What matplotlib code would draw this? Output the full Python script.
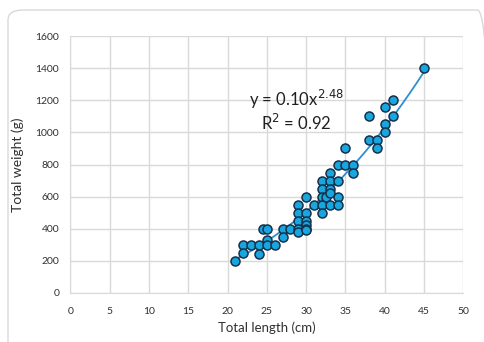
import numpy as np
import matplotlib
matplotlib.use("Agg")
import matplotlib.pyplot as plt
from matplotlib.patches import FancyBboxPatch

# Fish length (cm) and weight (g) measurements
length_cm = [21, 22, 22, 23, 24, 24, 24.5, 25, 25, 25, 26, 27, 27, 28,
             29, 29, 29, 29, 29, 30, 30, 30, 30, 30, 30, 31,
             32, 32, 32, 32, 32, 32.5, 33, 33, 33, 33, 33,
             34, 34, 34, 34, 35, 35, 36, 36, 38, 38, 39, 39,
             40, 40, 40, 41, 41, 45]
weight_g = [200, 300, 250, 300, 300, 240, 400, 400, 330, 300, 300, 400, 350, 400,
            550, 500, 450, 400, 380, 600, 500, 450, 425, 400, 390, 550,
            700, 650, 600, 550, 500, 600, 750, 700, 650, 620, 550,
            800, 700, 600, 550, 900, 800, 800, 750, 1100, 950, 950, 900,
            1155, 1050, 1000, 1200, 1100, 1400]

x_ticks = [0, 5, 10, 15, 20, 25, 30, 35, 40, 45, 50]
y_ticks = [0, 200, 400, 600, 800, 1000, 1200, 1400, 1600]

plt.rcParams['font.family'] = ['Lato', 'DejaVu Sans']

fig = plt.figure(figsize=(4.84, 3.42), dpi=100)
fig.patch.set_facecolor('white')

# Rounded chart border
border = FancyBboxPatch((8 / 484, -0.05), 1.0, 1.0 - 10 / 342 + 0.05,
                        boxstyle="round,pad=0,rounding_size=0.03",
                        transform=fig.transFigure, facecolor='none',
                        edgecolor='#d9d9d9', linewidth=1.0, clip_on=False)
fig.patches.append(border)

ax = fig.add_axes([70.3 / 484, 1 - 293 / 342, (463.3 - 70.3) / 484, (293 - 36) / 342])

ax.set_xlim(0, 50)
ax.set_ylim(0, 1600)
ax.set_xticks(x_ticks)
ax.set_yticks(y_ticks)
ax.grid(True, color='#d9d9d9', linewidth=1.0)
ax.set_axisbelow(True)
for s in ax.spines.values():
    s.set_visible(False)
ax.spines['bottom'].set_visible(True)
ax.spines['bottom'].set_color('#d9d9d9')
ax.spines['left'].set_visible(True)
ax.spines['left'].set_color('#d9d9d9')
ax.tick_params(length=0, labelsize=7.5, colors='#303030', pad=8)
ax.tick_params(axis='x', pad=10)

# Power-law trendline fitted in log space
x = np.array(length_cm, dtype=float)
y = np.array(weight_g, dtype=float)
b, loga = np.polyfit(np.log(x), np.log(y), 1)
a = np.exp(loga)
xs = np.linspace(x.min(), x.max(), 200)
ax.plot(xs, a * xs ** b, color='#2e8fd0', linewidth=1.3, zorder=2)

ax.scatter(x, y, s=42, facecolor='#18a6df', edgecolor='#15304a',
           linewidths=1.1, zorder=3)

ax.text(28.8, 1208, r'y = 0.10x$^{2.48}$', ha='center', va='center',
        fontsize=12, color='#202020')
ax.text(28.8, 1060, r'R$^{2}$ = 0.92', ha='center', va='center',
        fontsize=12, color='#202020')

ax.set_xlabel('Total length (cm)', fontsize=9.5, color='#303030', labelpad=4)
ax.set_ylabel('Total weight (g)', fontsize=10, color='#303030', labelpad=8)

fig.savefig('out.png', dpi=100, facecolor='white')
